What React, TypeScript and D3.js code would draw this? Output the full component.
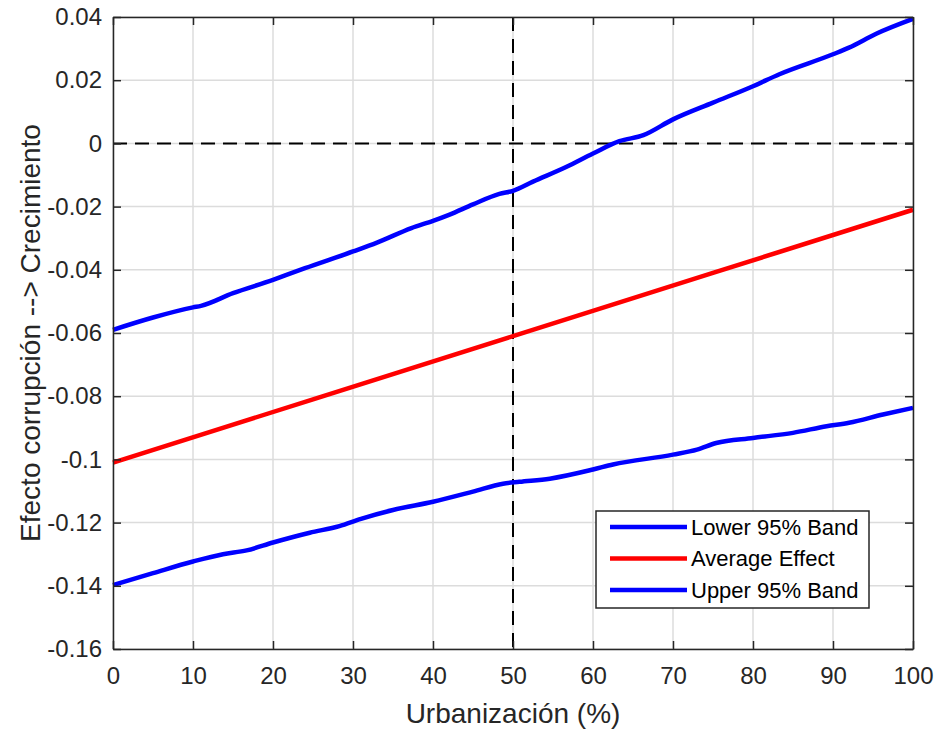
import React, { useEffect, useRef } from 'react';
import * as d3 from 'd3';

// urbanization (%) sample points and the three effect curves
const upperX = [0, 5, 10, 11, 15, 20, 21.6, 24, 30, 33, 37.3, 40, 42, 45, 48.3, 50, 52.5, 56.7, 60, 63.3, 66.3, 70, 75, 80, 83.3, 90, 92, 95.4, 100];
const upperY = [-0.059, -0.0551, -0.0519, -0.0514, -0.0474, -0.0432, -0.0417, -0.0395, -0.0342, -0.0314, -0.0268, -0.0245, -0.0226, -0.0193, -0.016, -0.015, -0.0121, -0.0074, -0.0032, 0.0007, 0.0026, 0.0076, 0.0129, 0.0181, 0.0219, 0.0282, 0.0303, 0.0347, 0.0394];

const lowerX = [0, 5, 10, 13.75, 16.7, 20, 24.6, 28.3, 31, 35, 40, 45, 48.75, 50.8, 54.6, 60, 62.5, 70, 73, 75.4, 80, 85, 89.2, 92, 96.25, 100];
const lowerY = [-0.1398, -0.136, -0.1323, -0.13, -0.1288, -0.1263, -0.1232, -0.1211, -0.1188, -0.116, -0.1134, -0.1102, -0.1077, -0.1071, -0.1061, -0.1032, -0.1016, -0.0985, -0.0969, -0.0948, -0.0932, -0.0916, -0.0895, -0.0884, -0.0858, -0.0837];

const avgX = [0, 50, 100];
const avgY = [-0.101, -0.061, -0.021];

const xTicks = [0, 10, 20, 30, 40, 50, 60, 70, 80, 90, 100];
const yTicks = [-0.16, -0.14, -0.12, -0.1, -0.08, -0.06, -0.04, -0.02, 0, 0.02, 0.04];

const legendLabels = ['Lower 95% Band', 'Average Effect', 'Upper 95% Band'];
const legendColors = ['#0000ff', '#ff0000', '#0000ff'];

const App = () => {
  const ref = useRef<SVGSVGElement>(null);

  useEffect(() => {
    const width = 937;
    const height = 729;
    const margin = { top: 17, right: 24, bottom: 80, left: 113 };
    const w = width - margin.left - margin.right;
    const h = height - margin.top - margin.bottom;
    const font = 'Liberation Sans, Arial, sans-serif';
    const axisColor = '#262626';

    const svg = d3.select(ref.current);
    svg.selectAll('*').remove();

    const g = svg.append('g').attr('transform', `translate(${margin.left},${margin.top})`);

    const x = d3.scaleLinear().domain([0, 100]).range([0, w]);
    const y = d3.scaleLinear().domain([-0.16, 0.04]).range([h, 0]);

    g.append('rect').attr('width', w).attr('height', h).attr('fill', '#fff');

    // grid
    g.selectAll('.gx')
      .data(xTicks)
      .enter()
      .append('line')
      .attr('x1', (d) => x(d))
      .attr('x2', (d) => x(d))
      .attr('y1', 0)
      .attr('y2', h)
      .attr('stroke', '#dcdcdc')
      .attr('stroke-width', 1.5);
    g.selectAll('.gy')
      .data(yTicks)
      .enter()
      .append('line')
      .attr('x1', 0)
      .attr('x2', w)
      .attr('y1', (d) => y(d))
      .attr('y2', (d) => y(d))
      .attr('stroke', '#dcdcdc')
      .attr('stroke-width', 1.5);

    // reference dashed lines
    g.append('line')
      .attr('x1', 0).attr('x2', w)
      .attr('y1', y(0)).attr('y2', y(0))
      .attr('stroke', '#000').attr('stroke-width', 2).attr('stroke-dasharray', '14,8');
    g.append('line')
      .attr('x1', x(50)).attr('x2', x(50))
      .attr('y1', 0).attr('y2', h)
      .attr('stroke', '#000').attr('stroke-width', 2).attr('stroke-dasharray', '14,8');

    const line = d3.line<[number, number]>()
      .x((d) => x(d[0]))
      .y((d) => y(d[1]))
      .curve(d3.curveMonotoneX);

    const series: [number[], number[], string][] = [
      [upperX, upperY, '#0000ff'],
      [avgX, avgY, '#ff0000'],
      [lowerX, lowerY, '#0000ff'],
    ];
    series.forEach(([xs, ys, c]) => {
      g.append('path')
        .datum(xs.map((v, i) => [v, ys[i]] as [number, number]))
        .attr('fill', 'none')
        .attr('stroke', c)
        .attr('stroke-width', 4.5)
        .attr('stroke-linejoin', 'round')
        .attr('d', line);
    });

    // axes: ticks inside, on all four sides
    const tickSize = 8;
    const bottom = g.append('g').attr('transform', `translate(0,${h})`)
      .call(d3.axisBottom(x).tickValues(xTicks).tickSizeInner(-tickSize).tickSizeOuter(0).tickPadding(18).tickFormat(d3.format('d')));
    const left = g.append('g')
      .call(d3.axisLeft(y).tickValues(yTicks).tickSizeInner(-tickSize).tickSizeOuter(0).tickPadding(11).tickFormat((d) => String(+(+d).toFixed(2))));
    const top = g.append('g')
      .call(d3.axisTop(x).tickValues(xTicks).tickSizeInner(-tickSize).tickSizeOuter(0).tickFormat(() => ''));
    const right = g.append('g').attr('transform', `translate(${w},0)`)
      .call(d3.axisRight(y).tickValues(yTicks).tickSizeInner(-tickSize).tickSizeOuter(0).tickFormat(() => ''));

    [bottom, left, top, right].forEach((a) => {
      a.select('.domain').attr('stroke', axisColor).attr('stroke-width', 1.5);
      a.selectAll('.tick line').attr('stroke', axisColor).attr('stroke-width', 1.5);
      a.selectAll('.tick text').attr('fill', axisColor).style('font-family', font).style('font-size', '24px');
    });

    // axis labels
    svg.append('text')
      .attr('x', margin.left + w / 2)
      .attr('y', 723)
      .attr('text-anchor', 'middle')
      .style('font-family', font)
      .style('font-size', '28px')
      .attr('fill', axisColor)
      .text('Urbanización (%)');
    svg.append('text')
      .attr('transform', `translate(40,${margin.top + h / 2}) rotate(-90)`)
      .attr('text-anchor', 'middle')
      .style('font-family', font)
      .style('font-size', '28px')
      .attr('fill', axisColor)
      .text('Efecto corrupción --> Crecimiento');

    // legend
    const lg = svg.append('g').attr('transform', 'translate(596,511)');
    lg.append('rect')
      .attr('width', 273)
      .attr('height', 97)
      .attr('fill', '#fff')
      .attr('stroke', axisColor)
      .attr('stroke-width', 1.5);
    legendLabels.forEach((lab, i) => {
      const yy = 16 + i * 31.5;
      lg.append('line')
        .attr('x1', 14).attr('x2', 91)
        .attr('y1', yy).attr('y2', yy)
        .attr('stroke', legendColors[i]).attr('stroke-width', 4.5);
      lg.append('text')
        .attr('x', 95)
        .attr('y', yy)
        .attr('dy', '0.35em')
        .style('font-family', font)
        .style('font-size', '22px')
        .attr('fill', '#000')
        .text(lab);
    });
  }, []);

  return (
    <svg
      ref={ref}
      width={937}
      height={729}
      style={{ position: 'absolute', left: 0, top: 0, background: '#fff' }}
    />
  );
};

export default App;
